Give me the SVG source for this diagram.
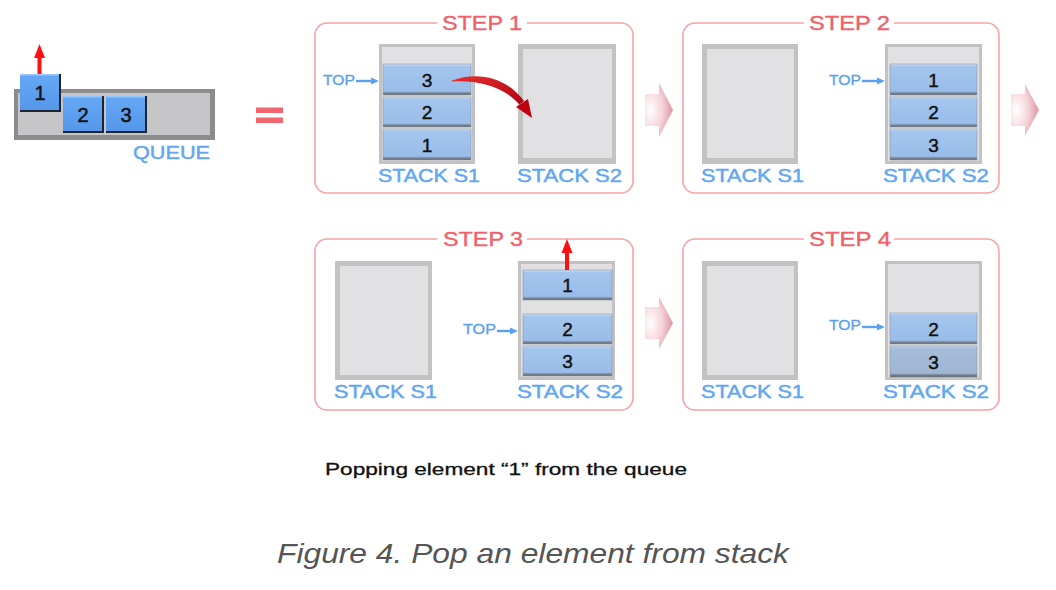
<svg xmlns="http://www.w3.org/2000/svg" width="1056" height="590" viewBox="0 0 1056 590">
<defs>
<style>
.frame{fill:none;stroke:#f7a3a7;stroke-width:1.6}
.gap{fill:#ffffff}
.title{font-family:"Liberation Sans",Arial,sans-serif;font-size:19.5px;fill:#f0606a;stroke:#f0606a;stroke-width:0.35}
.lbl{font-family:"Liberation Sans",Arial,sans-serif;font-size:18px;fill:#62a6f2;stroke:#62a6f2;stroke-width:0.45}
.top{font-family:"Liberation Sans",Arial,sans-serif;font-size:14px;fill:#5aa0f0;stroke:#5aa0f0;stroke-width:0.3}
.num{font-family:"Liberation Sans",Arial,sans-serif;font-size:19px;fill:#111111;stroke:#111111;stroke-width:0.45;text-anchor:middle}
.qnum{font-family:"Liberation Sans",Arial,sans-serif;font-size:20px;fill:#111111;stroke:#111111;stroke-width:0.5;text-anchor:middle}
.sOut{fill:#c2c2c3}
.sIn{fill:#e1e1e3}
.box{fill:url(#boxG);stroke:#8c949e;stroke-width:0.6}
.boxd{fill:url(#boxD);stroke:#8c949e;stroke-width:0.6}
.qsh{fill:#1c2430}
.qbox{fill:url(#qG)}
.toparr{stroke:#5aa0f0;stroke-width:2.4;fill:none}
.toph{fill:#5aa0f0}
.red{fill:#ff1010}
.chev{fill:url(#chG)}
</style>
<linearGradient id="boxG" x1="0" y1="0" x2="0" y2="1">
<stop offset="0" stop-color="#cfe2f8"/>
<stop offset="0.08" stop-color="#a4c5ee"/>
<stop offset="0.88" stop-color="#99bde9"/>
<stop offset="0.93" stop-color="#7d8a9a"/>
<stop offset="1" stop-color="#5a6370"/>
</linearGradient>
<linearGradient id="boxD" x1="0" y1="0" x2="0" y2="1">
<stop offset="0" stop-color="#c4d4e8"/>
<stop offset="0.08" stop-color="#a6bcd9"/>
<stop offset="0.88" stop-color="#9fb6d4"/>
<stop offset="0.93" stop-color="#7a8594"/>
<stop offset="1" stop-color="#565e6a"/>
</linearGradient>
<linearGradient id="qG" x1="0" y1="0" x2="0" y2="1">
<stop offset="0" stop-color="#a6d0ff"/>
<stop offset="0.07" stop-color="#64a7f5"/>
<stop offset="1" stop-color="#5598ea"/>
</linearGradient>
<radialGradient id="chG" cx="0.2" cy="0.5" r="0.95">
<stop offset="0" stop-color="#ffffff"/>
<stop offset="0.45" stop-color="#f5d3d8"/>
<stop offset="1" stop-color="#d27888"/>
</radialGradient>
<linearGradient id="curG" x1="0" y1="0" x2="1" y2="1">
<stop offset="0" stop-color="#e83030"/>
<stop offset="1" stop-color="#b00010"/>
</linearGradient>
</defs>

<rect width="1056" height="590" fill="#ffffff"/>

<!-- Queue -->
<g id="queue">
<rect x="14" y="89" width="201" height="51" fill="#8c8c8c"/>
<rect x="18" y="93" width="192" height="42" fill="#c6c6c8"/>
<rect class="qsh" x="20" y="74" width="41" height="38"/>
<rect class="qbox" x="20" y="74" width="39" height="36"/>
<text class="qnum" x="40" y="100">1</text>
<rect class="qsh" x="63" y="96" width="41" height="37"/>
<rect class="qbox" x="63" y="96" width="39" height="35"/>
<text class="qnum" x="83" y="122">2</text>
<rect class="qsh" x="106" y="96" width="41" height="37"/>
<rect class="qbox" x="106" y="96" width="39" height="35"/>
<text class="qnum" x="126" y="122">3</text>
<text class="lbl" x="133" y="159" textLength="77" lengthAdjust="spacingAndGlyphs">QUEUE</text>
</g>

<g id="equals">
<rect x="256" y="107.5" width="27" height="5.5" fill="#f26670"/>
<rect x="256" y="117.5" width="27" height="5.5" fill="#f26670"/>
</g>

<!-- Step 1 -->
<g id="step1">
<rect class="frame" x="315" y="23" width="318" height="170" rx="12"/>
<rect class="gap" x="437" y="16" width="90" height="14"/>
<text class="title" x="442" y="30" textLength="80" lengthAdjust="spacingAndGlyphs">STEP 1</text>
<g id="step1-s1">
<rect class="sOut" x="379" y="44" width="96" height="120"/>
<rect class="sIn" x="382" y="47" width="90" height="114"/>
<rect class="box" x="383" y="64" width="88" height="31"/><text class="num" x="427" y="87">3</text>
<rect class="box" x="383" y="97" width="88" height="30"/><text class="num" x="427" y="119">2</text>
<rect class="box" x="383" y="129" width="88" height="31"/><text class="num" x="427" y="152">1</text>
</g>
<g id="step1-s2">
<rect class="sOut" x="518" y="44" width="98" height="120"/>
<rect class="sIn" x="523" y="49" width="89" height="109"/>
</g>
<text class="top" x="323" y="85" textLength="32" lengthAdjust="spacingAndGlyphs">TOP</text>
<text class="lbl" x="378" y="182" textLength="102" lengthAdjust="spacingAndGlyphs">STACK S1</text>
<text class="lbl" x="517" y="182" textLength="105" lengthAdjust="spacingAndGlyphs">STACK S2</text>
</g>

<!-- Step 2 -->
<g id="step2">
<rect class="frame" x="683" y="23" width="316" height="170" rx="12"/>
<rect class="gap" x="804" y="16" width="90" height="14"/>
<text class="title" x="809" y="30" textLength="81" lengthAdjust="spacingAndGlyphs">STEP 2</text>
<g id="step2-s1">
<rect class="sOut" x="702" y="44" width="96" height="120"/>
<rect class="sIn" x="707" y="49" width="87" height="109"/>
</g>
<g id="step2-s2">
<rect class="sOut" x="885" y="44" width="97" height="120"/>
<rect class="sIn" x="888" y="47" width="91" height="114"/>
<rect class="box" x="890" y="64" width="87" height="31"/><text class="num" x="933.5" y="87">1</text>
<rect class="box" x="890" y="97" width="87" height="30"/><text class="num" x="933.5" y="119">2</text>
<rect class="box" x="890" y="129" width="87" height="31"/><text class="num" x="933.5" y="152">3</text>
</g>
<text class="top" x="829" y="85" textLength="32" lengthAdjust="spacingAndGlyphs">TOP</text>
<text class="lbl" x="701" y="182" textLength="103" lengthAdjust="spacingAndGlyphs">STACK S1</text>
<text class="lbl" x="883" y="182" textLength="106" lengthAdjust="spacingAndGlyphs">STACK S2</text>
</g>

<!-- Step 3 -->
<g id="step3">
<rect class="frame" x="315" y="239" width="318" height="171" rx="12"/>
<rect class="gap" x="437" y="232" width="90" height="14"/>
<text class="title" x="443" y="246" textLength="80" lengthAdjust="spacingAndGlyphs">STEP 3</text>
<g id="step3-s1">
<rect class="sOut" x="335" y="261" width="97" height="119"/>
<rect class="sIn" x="340" y="266" width="88" height="109"/>
</g>
<g id="step3-s2">
<rect class="sOut" x="518" y="261" width="97" height="119"/>
<rect class="sIn" x="521" y="264" width="91" height="113"/>
<rect class="box" x="523" y="270" width="89" height="30"/><text class="num" x="567.5" y="292">1</text>
<rect class="box" x="523" y="314" width="89" height="30"/><text class="num" x="567.5" y="336">2</text>
<rect class="box" x="523" y="346" width="89" height="30"/><text class="num" x="567.5" y="368">3</text>
</g>
<text class="top" x="463" y="334" textLength="33" lengthAdjust="spacingAndGlyphs">TOP</text>
<text class="lbl" x="334" y="398" textLength="103" lengthAdjust="spacingAndGlyphs">STACK S1</text>
<text class="lbl" x="517" y="398" textLength="106" lengthAdjust="spacingAndGlyphs">STACK S2</text>
</g>

<!-- Step 4 -->
<g id="step4">
<rect class="frame" x="683" y="239" width="316" height="171" rx="12"/>
<rect class="gap" x="804" y="232" width="90" height="14"/>
<text class="title" x="809" y="246" textLength="82" lengthAdjust="spacingAndGlyphs">STEP 4</text>
<g id="step4-s1">
<rect class="sOut" x="702" y="261" width="96" height="119"/>
<rect class="sIn" x="707" y="266" width="87" height="109"/>
</g>
<g id="step4-s2">
<rect class="sOut" x="885" y="261" width="97" height="119"/>
<rect class="sIn" x="888" y="264" width="91" height="113"/>
<rect class="box" x="890" y="313" width="87" height="31"/><text class="num" x="933.5" y="336">2</text>
<rect class="boxd" x="890" y="346" width="87" height="31"/><text class="num" x="933.5" y="369">3</text>
</g>
<text class="top" x="829" y="330" textLength="32" lengthAdjust="spacingAndGlyphs">TOP</text>
<text class="lbl" x="701" y="398" textLength="103" lengthAdjust="spacingAndGlyphs">STACK S1</text>
<text class="lbl" x="883" y="398" textLength="106" lengthAdjust="spacingAndGlyphs">STACK S2</text>
</g>

<!-- Connectors -->
<g id="connectors">
<rect class="red" x="37.5" y="57" width="4" height="17"/>
<polygon class="red" points="39.5,44 45,58 34,58"/>
<rect class="red" x="565" y="251" width="4" height="19"/>
<polygon class="red" points="567,239 572.5,253 561.5,253"/>
<path d="M452,80.5 C478,71 506,77 524,101 L519.5,104.5 C503,86 478,80 452,81.5 Z" fill="url(#curG)"/>
<polygon points="532,118 528,99 516,107" fill="#c00010"/>
<line class="toparr" x1="356" y1="81" x2="372" y2="81"/><polygon class="toph" points="379,81 371,77.5 371,84.5"/>
<line class="toparr" x1="862" y1="81" x2="878" y2="81"/><polygon class="toph" points="885,81 877,77.5 877,84.5"/>
<line class="toparr" x1="497" y1="331" x2="511" y2="331"/><polygon class="toph" points="518,331 510,327.5 510,334.5"/>
<line class="toparr" x1="862" y1="327" x2="878" y2="327"/><polygon class="toph" points="885,327 877,323.5 877,330.5"/>
<path class="chev" d="M645,94 L659,94 L659,83 L673,110 L659,137 L659,126 L645,126 Z"/>
<path class="chev" d="M1011,94 L1025,94 L1025,84 L1039,110 L1025,136 L1025,126 L1011,126 Z"/>
<path class="chev" d="M645,307 L659,307 L659,297 L673,323 L659,349 L659,339 L645,339 Z"/>
</g>

<text x="325" y="475" font-family="Liberation Sans, Arial, sans-serif" font-size="16.5" fill="#111111" stroke="#111111" stroke-width="0.3" textLength="362" lengthAdjust="spacingAndGlyphs">Popping element “1” from the queue</text>
<text x="277" y="563" font-family="Liberation Sans, Arial, sans-serif" font-size="28" font-style="italic" fill="#555555" textLength="512" lengthAdjust="spacingAndGlyphs">Figure 4. Pop an element from stack</text>
</svg>
